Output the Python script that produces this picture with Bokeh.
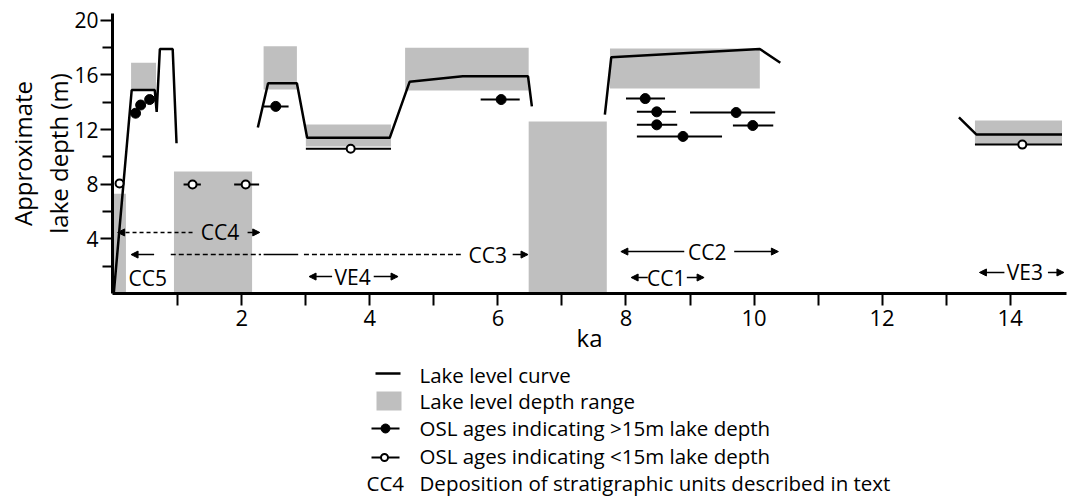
from bokeh.plotting import figure
from bokeh.layouts import column
from bokeh.models import Range1d, FixedTicker, Arrow, NormalHead
from bokeh.core.properties import value
from bokeh.embed import file_html
from bokeh.resources import INLINE

FONT = "Open Sans"
GRAY = "#bfbfbf"

# ---- data (ka, m) ----
box_left   = [0.0, 0.27, 0.94, 2.34, 3.00, 4.55, 6.48, 7.75, 13.45]
box_right  = [0.19, 0.66, 2.16, 2.86, 4.33, 6.48, 7.70, 10.09, 14.81]
box_bottom = [0.0, 14.9, 0.0, 14.93, 10.76, 14.86, 0.0, 15.0, 10.9]
box_top    = [7.3, 16.9, 8.93, 18.1, 12.37, 18.0, 12.6, 17.94, 12.66]

curve_x = [
    [0.0, 0.28, 0.64, 0.67, 0.72, 0.92, 0.98],
    [2.25, 2.41, 2.86, 3.02, 4.31, 4.62, 5.45, 6.47, 6.53],
    [7.67, 7.77, 10.09, 10.41],
    [13.2, 13.47, 14.81],
]
curve_y = [
    [0.0, 14.9, 14.9, 13.3, 17.9, 17.9, 11.0],
    [12.15, 15.4, 15.4, 11.4, 11.4, 15.5, 15.9, 15.9, 13.7],
    [13.1, 17.3, 17.9, 16.9],
    [12.9, 11.65, 11.65],
]

osl_deep_age = [0.34, 0.42, 0.56, 2.53, 6.05, 8.30, 8.48, 8.48, 8.89, 9.72, 9.98]
osl_deep_dep = [13.2, 13.8, 14.2, 13.7, 14.2, 14.27, 13.3, 12.35, 11.5, 13.25, 12.3]
osl_deep_lo  = [0.34, 0.42, 0.56, 2.34, 5.73, 8.00, 8.17, 8.17, 8.17, 9.00, 9.67]
osl_deep_hi  = [0.34, 0.42, 0.56, 2.73, 6.34, 8.61, 8.78, 8.80, 9.50, 10.33, 10.30]

osl_shal_age = [0.09, 1.23, 2.06, 3.70, 14.19]
osl_shal_dep = [8.05, 7.98, 7.98, 10.6, 10.9]
osl_shal_lo  = [0.09, 1.09, 1.88, 3.00, 13.45]
osl_shal_hi  = [0.09, 1.36, 2.27, 4.33, 14.81]

x_ticks = list(range(1, 15))
x_tick_labels = {i: (str(i) if i % 2 == 0 else "") for i in x_ticks}
y_ticks = [4, 8, 12, 16, 20]
y_minor = [2, 6, 10, 14, 18]

# stratigraphic unit labels (text centre) and their arrows
strat_text = ["CC4", "CC3", "CC5", "VE4", "CC2", "CC1", "VE3"]
strat_x = [1.66, 5.84, 0.53, 3.73, 9.27, 8.63, 14.23]
strat_y = [4.47, 2.85, 1.17, 1.24, 3.07, 1.17, 1.54]
# solid arrows: (tail_x, tip_x, y)
arrow_tail = [2.09, 6.23, 0.63, 8.91, 9.69, 3.41, 4.06, 8.34, 8.95, 13.91, 14.59]
arrow_tip  = [2.28, 6.47, 0.27, 7.92, 10.38, 3.05, 4.44, 8.08, 9.22, 13.52, 14.84]
arrow_y    = [4.47, 2.85, 2.85, 3.07, 3.07, 1.24, 1.24, 1.17, 1.17, 1.54, 1.54]

# ---- main figure ----
p = figure(width=1068, height=358, output_backend="svg", toolbar_location=None,
           x_range=Range1d(-0.02, 14.88), y_range=Range1d(0, 20.5),
           min_border_left=112, min_border_right=2, min_border_top=13,
           min_border_bottom=65)
p.outline_line_color = None
p.xgrid.visible = False
p.ygrid.visible = False

p.quad(left=box_left, right=box_right, bottom=box_bottom, top=box_top,
       fill_color=GRAY, line_color=None)
p.multi_line(xs=curve_x, ys=curve_y, line_color="black", line_width=2.5)
p.segment(x0=osl_deep_lo, y0=osl_deep_dep, x1=osl_deep_hi, y1=osl_deep_dep,
          line_color="black", line_width=2)
p.segment(x0=osl_shal_lo, y0=osl_shal_dep, x1=osl_shal_hi, y1=osl_shal_dep,
          line_color="black", line_width=2)
p.scatter(osl_deep_age, osl_deep_dep, size=10, fill_color="black", line_color="black")
p.scatter(osl_shal_age, osl_shal_dep, size=8, fill_color="white", line_color="black",
          line_width=2)

# stratigraphic unit annotations
p.text(x=strat_x, y=strat_y, text=strat_text, text_font=value(FONT),
       text_font_size="21px", text_align="center", text_baseline="middle", text_color="black")

def head():
    return NormalHead(size=7, fill_color="black", line_color="black", line_width=1)

for xt, xh, ya in zip(arrow_tail, arrow_tip, arrow_y):
    p.add_layout(Arrow(end=head(), x_start=xt, y_start=ya, x_end=xh, y_end=ya,
                       line_width=1.5, line_color="black"))
# CC4 dashed arrow
p.add_layout(Arrow(end=head(), x_start=1.23, y_start=4.47, x_end=0.06, y_end=4.47,
                   line_width=1.5, line_dash="4 3", line_color="black"))
# CC3 dashed / solid shaft
p.segment(x0=[0.89, 2.97], y0=[2.85, 2.85], x1=[2.30, 5.42], y1=[2.85, 2.85],
          line_color="black", line_width=1.5, line_dash="5 3")
p.segment(x0=[2.34], y0=[2.85], x1=[2.88], y1=[2.85], line_color="black", line_width=1.5)

# axes
p.xaxis.ticker = FixedTicker(ticks=x_ticks)
p.xaxis.major_label_overrides = x_tick_labels
p.xaxis.axis_label = "ka"
p.yaxis.ticker = FixedTicker(ticks=y_ticks, minor_ticks=y_minor)
p.yaxis.axis_label = "Approximate\nlake depth (m)"
for ax in (p.xaxis, p.yaxis):
    ax.axis_line_width = 3
    ax.axis_line_color = "black"
    ax.major_tick_in = 0
    ax.major_tick_out = 12
    ax.major_tick_line_width = 2
    ax.major_tick_line_color = "black"
    ax.minor_tick_in = 0
    ax.minor_tick_out = 10
    ax.minor_tick_line_width = 2
    ax.minor_tick_line_color = "black"
    ax.major_label_text_font = FONT
    ax.major_label_text_color = "black"
    ax.axis_label_text_font = FONT
    ax.axis_label_text_font_style = "normal"
    ax.axis_label_text_color = "black"
p.xaxis.major_label_text_font_size = "22px"
p.xaxis.major_label_standoff = 4
p.xaxis.axis_label_text_font_size = "24px"
p.xaxis.axis_label_standoff = -8
p.yaxis.major_label_text_font_size = "21px"
p.yaxis.major_label_standoff = 2
p.yaxis.axis_label_text_font_size = "24px"
p.yaxis.axis_label_text_line_height = 1.1
p.yaxis.axis_label_standoff = -4

# ---- legend figure (page pixel coordinates) ----
leg_text = ["Lake level curve", "Lake level depth range",
            "OSL ages indicating >15m lake depth", "OSL ages indicating <15m lake depth",
            "Deposition of stratigraphic units described in text"]
leg_y = [374, 400, 427, 455, 482]

q = figure(width=1068, height=139, output_backend="svg", toolbar_location=None,
           x_range=Range1d(112, 1066), y_range=Range1d(497, 358),
           x_axis_location=None, y_axis_location=None,
           min_border_left=112, min_border_right=2, min_border_top=0, min_border_bottom=0)
q.outline_line_color = None
q.xgrid.visible = False
q.ygrid.visible = False
q.segment(x0=[375], y0=[373], x1=[400], y1=[373], line_color="black", line_width=2.5)
q.quad(left=[376], right=[401], top=[391], bottom=[410], fill_color=GRAY, line_color=None)
q.segment(x0=[371, 371], y0=[428, 457], x1=[399, 399], y1=[428, 457],
          line_color="black", line_width=2)
q.scatter([385], [428], size=9, fill_color="black", line_color="black")
q.scatter([384], [457], size=7, fill_color="white", line_color="black", line_width=2)
q.text(x=[419] * 5, y=leg_y, text=leg_text, text_font=value(FONT), text_font_size="20.5px",
       text_align="left", text_baseline="middle", text_color="black")
q.text(x=[366], y=[482], text=["CC4"], text_font=value(FONT), text_font_size="20.5px",
       text_align="left", text_baseline="middle", text_color="black")

layout = column(p, q, spacing=0)
open("out.html", "w").write(file_html(layout, INLINE))
